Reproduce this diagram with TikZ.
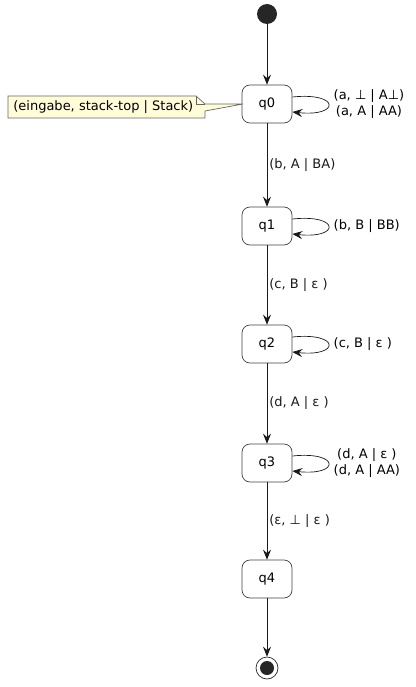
\documentclass[tikz,border=0pt]{standalone}
\usepackage{fontspec}
\setmainfont{DejaVu Sans}
\usetikzlibrary{arrows.meta}
\begin{document}
\begin{tikzpicture}[x=1pt, y=-1pt, font=\fontsize{13}{15}\selectfont, line width=0.7pt,
    state/.style = {draw=black!75, rounded corners=8pt, minimum width=50pt, minimum height=38pt, inner sep=0pt},
    arr/.style = {-{Stealth[length=10pt, width=8pt, inset=3.5pt]}, black!90},
    lbl/.style = {right, inner sep=1pt, xshift=1pt},
    loop/.style = {right, align=center, inner sep=1pt, font=\fontsize{13}{15.5}\selectfont}]
    \useasboundingbox (0,0) rectangle (415,687);
    \node[circle, fill=black!85, minimum size=20pt, inner sep=0pt] (start) at (267,14) {};
    \node[state] (q0) at (267,104) {q0};
    \node[state] (q1) at (267,226) {q1};
    \node[state] (q2) at (267,344) {q2};
    \node[state] (q3) at (267,463) {q3};
    \node[state] (q4) at (267,579) {q4};
    \node[circle, draw=black!85, minimum size=22pt, inner sep=0pt] (end) at (267,668) {};
    \fill[black!85] (end.center) circle (7pt);
    % note
    \draw[draw=black!60, fill=yellow!15] (8,96) -- (196,96) -- (205,104) -- (243,104) -- (205,111) -- (205,118) -- (8,118) -- cycle;
    \draw[draw=black!60] (196,96) -- (196,104) -- (205,104);
    \node[anchor=west, inner sep=0pt] (note) at (13,107) {(eingabe, stack-top | Stack)};
    % transitions
    \draw[arr] (start) -- (q0);
    \draw[arr] (q0) -- node[lbl] {(b, A | BA)} (q1);
    \draw[arr] (q1) -- node[lbl] {(c, B | ε )} (q2);
    \draw[arr] (q2) -- node[lbl] {(d, A | ε )} (q3);
    \draw[arr] (q3) -- node[lbl] {(ε, ⊥ | ε )} (q4);
    \draw[arr] (q4) -- (end);
    % self loops
    \foreach \s/\t in {q0/{(a, ⊥ | A⊥)\\ (a, A | AA)}, q1/{(b, B | BB)}, q2/{(c, B | ε )}, q3/{(d, A | ε )\\(d, A | AA)}} {
        \draw[arr] ([yshift=7pt]\s.east) .. controls +(48,-5) and +(48,5) .. ([yshift=-8pt]\s.east);
        \node[loop] at ([xshift=40pt]\s.east) {\t};
    }
\end{tikzpicture}
\end{document}
